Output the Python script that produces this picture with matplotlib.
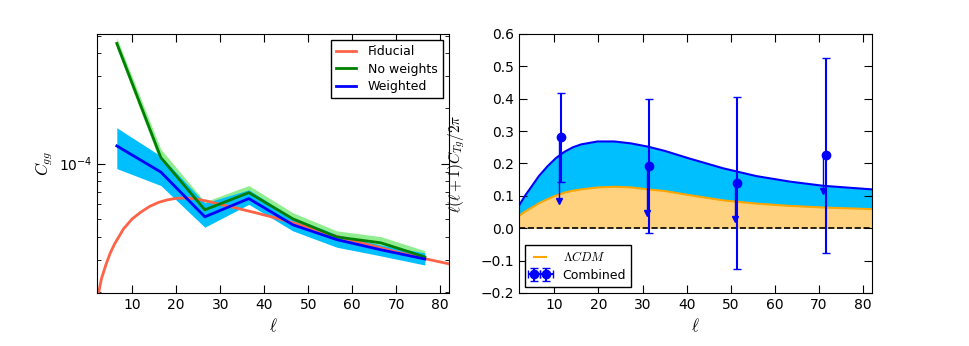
import numpy as np
import matplotlib
matplotlib.use("Agg")
import matplotlib.pyplot as plt
from matplotlib.ticker import NullFormatter, MultipleLocator

plt.rcParams['mathtext.fontset'] = 'cm'
plt.rcParams['font.family'] = ['DejaVu Sans']
plt.rcParams['xtick.direction'] = 'in'
plt.rcParams['ytick.direction'] = 'in'
plt.rcParams['xtick.top'] = True
plt.rcParams['ytick.right'] = True

# ---------------- Left panel data ----------------
ell_bins = [6.5, 16.5, 26.5, 36.5, 46.5, 56.5, 66.5, 76.5]

noweight = [4.53e-4, 1.08e-4, 5.6e-5, 6.95e-5, 5.0e-5, 3.98e-5, 3.7e-5, 3.1e-5]
noweight_hi = [4.85e-4, 1.2e-4, 6.2e-5, 7.6e-5, 5.4e-5, 4.3e-5, 4.0e-5, 3.35e-5]
noweight_lo = [4.25e-4, 1.0e-4, 5.2e-5, 6.5e-5, 4.7e-5, 3.75e-5, 3.45e-5, 2.9e-5]

weighted = [1.25e-4, 9.0e-5, 5.13e-5, 6.45e-5, 4.64e-5, 3.85e-5, 3.39e-5, 3.02e-5]
weighted_hi = [1.57e-4, 1.1e-4, 6.1e-5, 7.2e-5, 5.07e-5, 4.1e-5, 3.6e-5, 3.26e-5]
weighted_lo = [9.4e-5, 7.6e-5, 4.5e-5, 6.0e-5, 4.3e-5, 3.5e-5, 3.14e-5, 2.8e-5]

fid_ell = [2, 2.5, 3, 4, 5, 6, 8, 10, 12, 14, 16, 18, 20, 22, 24, 27, 30, 34,
           38, 42, 48, 55, 62, 70, 76, 82]
fid_cl = [1.7e-5, 2.05e-5, 2.35e-5, 2.8e-5, 3.25e-5, 3.65e-5, 4.4e-5, 5.0e-5,
          5.45e-5, 5.85e-5, 6.15e-5, 6.35e-5, 6.47e-5, 6.5e-5, 6.45e-5, 6.25e-5,
          6.0e-5, 5.7e-5, 5.4e-5, 5.1e-5, 4.65e-5, 4.1e-5, 3.7e-5, 3.3e-5,
          3.05e-5, 2.84e-5]

# ---------------- Right panel data ----------------
th_ell = [2, 3.3, 4.7, 6.5, 8.5, 10.4, 12.3, 14.2, 16.1, 19.8, 23.6, 27.4,
          31.2, 35.0, 40.7, 48.3, 55.8, 63.4, 71.0, 82]
upper_curve = [0.070, 0.099, 0.126, 0.161, 0.192, 0.217, 0.236, 0.250, 0.259,
               0.268, 0.268, 0.262, 0.252, 0.239, 0.215, 0.185, 0.161, 0.144,
               0.131, 0.120]
lcdm_curve = [0.038, 0.051, 0.062, 0.077, 0.090, 0.101, 0.110, 0.116, 0.120,
              0.126, 0.128, 0.126, 0.120, 0.115, 0.102, 0.086, 0.076, 0.069,
              0.064, 0.059]

comb_ell = [11.5, 31.5, 51.5, 71.5]
comb_val = [0.281, 0.192, 0.139, 0.225]
comb_err = [0.137, 0.208, 0.265, 0.30]
arrow_ell = [11.0, 31.0, 51.0, 71.0]
arrow_tip = [0.084, 0.046, 0.028, 0.115]

fig = plt.figure(figsize=(9.69, 3.46), dpi=100)
ax1 = fig.add_axes([0.1001, 0.1532, 0.3633, 0.7486])
ax2 = fig.add_axes([0.5356, 0.1532, 0.3643, 0.7486])

tfs = 10
lfs = 12

# Left panel
ax1.fill_between(ell_bins, noweight_lo, noweight_hi, color='#90EE90', lw=0)
ax1.fill_between(ell_bins, weighted_lo, weighted_hi, color='#00BFFF', lw=0)
ax1.plot(fid_ell, fid_cl, color='#FF6347', lw=2, label='Fiducial')
ax1.plot(ell_bins, noweight, color=(0, 0.5, 0), lw=2, label='No weights')
ax1.plot(ell_bins, weighted, color='b', lw=2, label='Weighted')
ax1.set_yscale('log')
ax1.set_xlim(2, 82)
ax1.set_ylim(1.97e-5, 5.1e-4)
ax1.xaxis.set_major_locator(MultipleLocator(10))
ax1.yaxis.set_minor_formatter(NullFormatter())
ax1.tick_params(which='both', labelsize=tfs)
ax1.tick_params(which='major', length=6)
ax1.tick_params(which='minor', length=3)
ax1.set_xlabel(r'$\ell$', fontsize=lfs)
ax1.set_ylabel(r'$C_{gg}$', fontsize=lfs)
ax1.yaxis.set_label_coords(-0.119, 0.5)
leg1 = ax1.legend(loc='upper right', fontsize=9, fancybox=False, framealpha=1,
                  edgecolor='k', handlelength=1.6, handletextpad=1.0,
                  labelspacing=0.35, borderpad=0.4)
leg1.get_frame().set_linewidth(1.0)

# Right panel
ax2.fill_between(th_ell, 0, lcdm_curve, color='#FFD27F', lw=0)
ax2.fill_between(th_ell, lcdm_curve, upper_curve, color='#00BFFF', lw=0)
ax2.plot(th_ell, upper_curve, color='b', lw=1.5)
ax2.plot(th_ell, lcdm_curve, color='orange', lw=1.5, label=r'$\Lambda CDM$')
ax2.axhline(0, color='k', ls='--', lw=1.2)
ax2.vlines(arrow_ell, arrow_tip, comb_val, color='b', lw=1.0)
ax2.plot(arrow_ell, arrow_tip, ls='none', marker='v', color='b', ms=5)
ax2.errorbar(comb_ell, comb_val, yerr=comb_err, xerr=0, fmt='o', color='b',
             ms=6, elinewidth=1.5, capsize=3, label='Combined')
ax2.set_xlim(2, 82)
ax2.set_ylim(-0.2, 0.6)
ax2.xaxis.set_major_locator(MultipleLocator(10))
ax2.yaxis.set_major_locator(MultipleLocator(0.1))
ax2.tick_params(which='both', labelsize=tfs, length=6)
ax2.set_xlabel(r'$\ell$', fontsize=lfs)
ax2.set_ylabel(r'$\ell(\ell+1)C_{Tg}/2\pi$', fontsize=11)
ax2.yaxis.set_label_coords(-0.147, 0.5)
leg2 = ax2.legend(loc='lower left', fontsize=9, fancybox=False, framealpha=1,
                  edgecolor='k', numpoints=2, handlelength=1.6,
                  handletextpad=1.0, labelspacing=0.35, borderpad=0.4)
leg2.get_frame().set_linewidth(1.0)

fig.savefig('out.png', dpi=100)
